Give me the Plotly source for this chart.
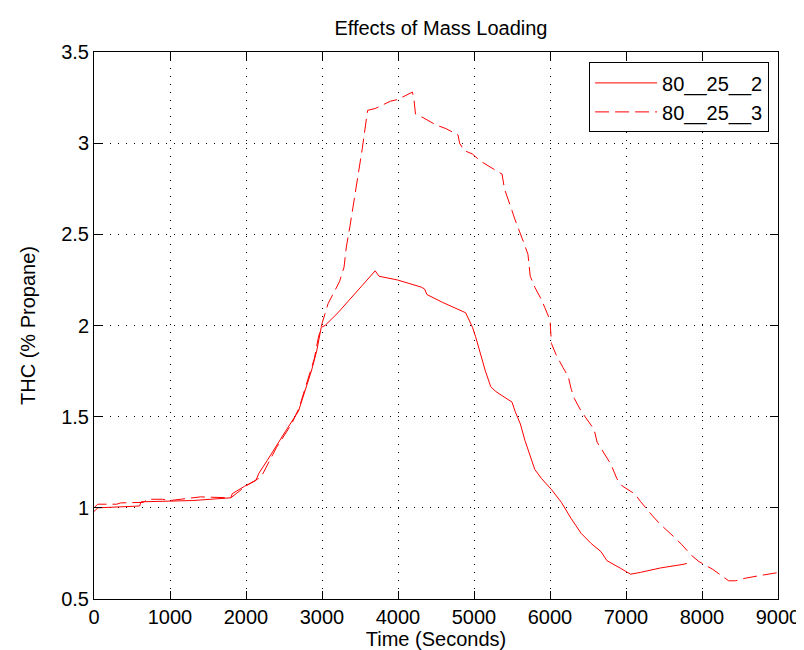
import plotly.graph_objects as go

# ---- data ----
time_2 = [0, 50, 600, 620, 1300, 1800, 1820, 1980, 2130, 2170, 2280, 2390, 2520,
          2690, 2800, 2860, 2930, 2990, 3040, 3210, 3530, 3700, 3750, 3990, 4310,
          4350, 4380, 4590, 4890, 4940, 4980, 5020, 5090, 5150, 5220, 5280, 5370,
          5500, 5540, 5610, 5670, 5740, 5800, 5890, 6020, 6150, 6280, 6410, 6540,
          6670, 6750, 6930, 7060, 7190, 7450, 7750, 7800]
thc_2 = [0.98, 1.0, 1.01, 1.033, 1.04, 1.055, 1.078, 1.118, 1.15, 1.19, 1.26, 1.33, 1.42,
         1.53, 1.68, 1.75, 1.86, 1.99, 2.0, 2.07, 2.22, 2.30, 2.27, 2.25, 2.21,
         2.20, 2.17, 2.126, 2.07, 2.025, 1.99, 1.94, 1.84, 1.75, 1.665, 1.64, 1.615,
         1.58, 1.53, 1.46, 1.37, 1.28, 1.21, 1.16, 1.10, 1.03, 0.94, 0.86, 0.805,
         0.76, 0.71, 0.668, 0.636, 0.646, 0.67, 0.69, 0.695]

time_3 = [0, 50, 300, 350, 650, 700, 900, 1000, 1400, 1800, 2000, 2200, 2400, 2600,
          2700, 2820, 2900, 2950, 3000, 3080, 3170, 3230, 3290, 3320, 3370, 3400,
          3425, 3460, 3490, 3530, 3600, 3700, 3900, 4000, 4190, 4210, 4230, 4330,
          4500, 4630, 4790, 4810, 4870, 4980, 5090, 5260, 5370, 5400, 5430, 5500,
          5540, 5610, 5650, 5710, 5740, 5800, 5890, 5930, 6000, 6020, 6080, 6170,
          6240, 6280, 6320, 6410, 6490, 6580, 6620, 6710, 6800, 6880, 6950, 7120,
          7190, 7340, 7450, 7620, 7730, 7860, 7960, 8140, 8270, 8350, 8440, 8570,
          8740, 9000]
thc_3 = [1.0, 1.02, 1.02, 1.027, 1.03, 1.047, 1.047, 1.04, 1.06, 1.055, 1.12, 1.17, 1.33, 1.46,
         1.55, 1.72, 1.82, 1.93, 2.01, 2.12, 2.19, 2.24, 2.32, 2.43, 2.55, 2.63,
         2.68, 2.77, 2.86, 2.97, 3.18, 3.19, 3.23, 3.24, 3.28, 3.24, 3.16, 3.14,
         3.10, 3.08, 3.045, 3.0, 2.96, 2.94, 2.90, 2.86, 2.83, 2.75, 2.71, 2.63,
         2.58, 2.51, 2.46, 2.39, 2.27, 2.21, 2.14, 2.10, 2.03, 1.90, 1.84, 1.77,
         1.72, 1.65, 1.60, 1.53, 1.48, 1.43, 1.36, 1.30, 1.24, 1.16, 1.12, 1.075,
         1.035, 0.96, 0.91, 0.845, 0.80, 0.74, 0.705, 0.663, 0.627, 0.60, 0.60, 0.614,
         0.627, 0.645]

x_ticks = [0, 1000, 2000, 3000, 4000, 5000, 6000, 7000, 8000, 9000]
y_ticks = [0.5, 1, 1.5, 2, 2.5, 3, 3.5]

FONT = "Liberation Sans, Arial, sans-serif"

fig = go.Figure()
fig.add_trace(go.Scatter(x=time_2, y=thc_2, mode="lines", name="80__25__2",
                         line=dict(color="#ff0000", width=1)))
fig.add_trace(go.Scatter(x=time_3, y=thc_3, mode="lines", name="80__25__3",
                         line=dict(color="#ff0000", width=1, dash="14px,6px")))

axis_common = dict(
    showline=True, linecolor="black", linewidth=1, mirror="ticks",
    ticks="inside", ticklen=8, tickcolor="black", tickwidth=1,
    showgrid=True, gridcolor="black", gridwidth=1, griddash="1px,7px",
    zeroline=False, tickfont=dict(family=FONT, size=20, color="black"),
)

fig.update_layout(
    width=804, height=650,
    margin=dict(l=86, r=24, t=44, b=58),
    paper_bgcolor="white", plot_bgcolor="white",
    font=dict(family=FONT, size=20, color="black"),
    title=dict(text="Effects of Mass Loading", x=0.5385, xanchor="center",
               y=1 - 20 / 650, yanchor="middle",
               font=dict(family=FONT, size=20, color="black")),
    xaxis=dict(range=[0, 9000], tickvals=x_ticks,
               title=dict(text="Time (Seconds)", standoff=4,
                          font=dict(family=FONT, size=20, color="black")),
               **axis_common),
    yaxis=dict(range=[0.5, 3.5], tickvals=y_ticks,
               title=dict(text="THC (% Propane)", standoff=20,
                          font=dict(family=FONT, size=20, color="black")),
               **axis_common),
    legend=dict(x=0.987, xanchor="right", y=0.981, yanchor="top",
                bgcolor="white", bordercolor="black", borderwidth=1,
                font=dict(family=FONT, size=20, color="black"),
                itemwidth=62, tracegroupgap=0),
    showlegend=True,
)

fig.write_html("out.html")
